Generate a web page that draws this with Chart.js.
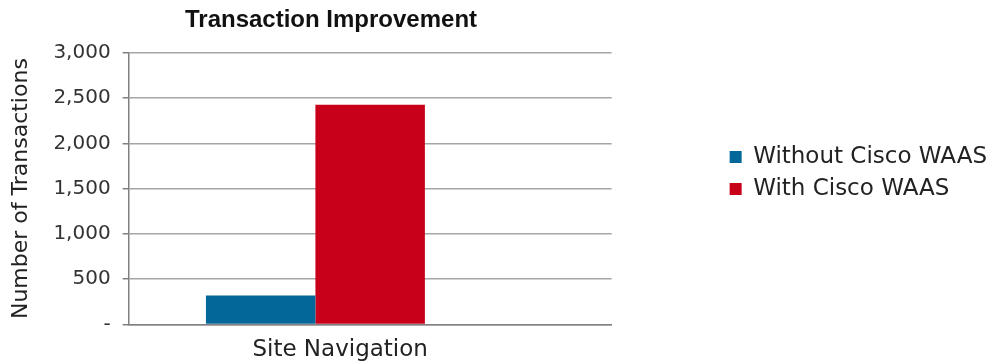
<!DOCTYPE html>
<html lang="en">
<head>
  <meta charset="UTF-8">
  <title>Transaction Improvement</title>
  <script src="https://cdn.jsdelivr.net/npm/chart.js"></script>
  <style>
    html, body { margin: 0; padding: 0; background: #fff; }
    #wrap { width: 987px; height: 364px; }
  </style>
</head>
<body>
  <div id="wrap"><canvas id="chart"></canvas></div>

  <script>
    // Data
    const categories = ['Site Navigation'];
    const withoutWaas = [320];
    const withWaas = [2425];
    const spacer = [null]; // empty third slot Excel keeps in the group
    const seriesNames = ['Without Cisco WAAS', 'With Cisco WAAS'];
    const yTicks = [0, 500, 1000, 1500, 2000, 2500, 3000];

    const font = 'DejaVu Sans';

    // move title / legend a bit to sit like the original
    const nudge = {
      id: 'nudge',
      afterLayout(chart) {
        const t = chart.titleBlock;
        t.left = 0; t.right = 662; t.width = 662;
        const l = chart.legend;
        l.top -= 15; l.bottom -= 15;
        l.left += 10; l.right += 10;
      }
    };

    new Chart(document.getElementById('chart'), {
      type: 'bar',
      data: {
        labels: categories,
        datasets: [
          { label: seriesNames[0], data: withoutWaas, backgroundColor: '#04679a' },
          { label: seriesNames[1], data: withWaas, backgroundColor: '#c8001a' },
          { label: '', data: spacer, backgroundColor: 'rgba(0,0,0,0)' }
        ]
      },
      options: {
        responsive: true,
        maintainAspectRatio: false,
        animation: false,
        layout: { padding: { left: 4, top: 0, right: 0, bottom: -12 } },
        datasets: { bar: { barPercentage: 1, categoryPercentage: 0.68 } },
        scales: {
          x: {
            grid: { display: false, drawTicks: false },
            border: { color: '#808080', width: 1.5 },
            ticks: { color: '#222', font: { family: font, size: 23 }, padding: 12, labelOffset: -30 }
          },
          y: {
            min: 0,
            max: 3000,
            afterBuildTicks(scale) { scale.ticks = yTicks.map(v => ({ value: v })); },
            grid: { color: '#a6a6a6', lineWidth: 1.5, tickLength: 6, tickColor: '#808080' },
            border: { color: '#808080', width: 1.5 },
            ticks: {
              color: '#333',
              font: { family: font, size: 20 },
              padding: 12,
              callback: v => v === 0 ? '-' : v.toLocaleString('en-US')
            },
            title: {
              display: true,
              text: 'Number of Transactions',
              color: '#222',
              font: { family: font, size: 22 },
              padding: { top: 4, bottom: 7 }
            }
          },
          gap: {
            type: 'linear',
            position: 'right',
            grid: { display: false },
            border: { display: false },
            ticks: { display: false },
            afterFit(scale) { scale.width = 99; }
          }
        },
        plugins: {
          title: {
            display: true,
            text: 'Transaction Improvement',
            color: '#111',
            font: { family: 'Liberation Sans', size: 24, weight: 'bold' },
            padding: { top: 6, bottom: 18 }
          },
          legend: {
            position: 'right',
            maxWidth: 320,
            labels: {
              color: '#222',
              font: { family: font, size: 23 },
              boxWidth: 12,
              boxHeight: 12,
              padding: 9,
              filter: item => item.text !== ''
            }
          },
          tooltip: { enabled: false }
        }
      },
      plugins: [nudge]
    });
  </script>
</body>
</html>
